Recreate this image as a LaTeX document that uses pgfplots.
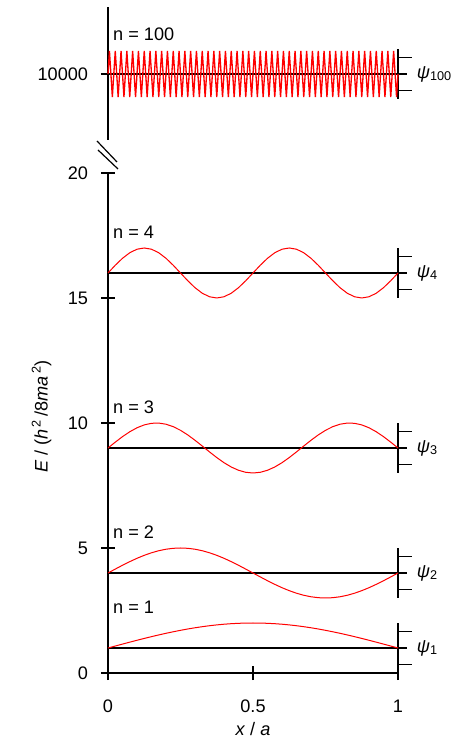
\documentclass[border=0pt]{standalone}
\usepackage{pgfplots}
\pgfplotsset{compat=1.18}
\usepackage{fontspec}
\setmainfont{Liberation Sans}
\begin{document}
\fontsize{13.6}{16}\selectfont
\begin{tikzpicture}[x=1pt,y=1pt]
\path[use as bounding box] (0,0) rectangle (349.5,561);
\pgfplotsset{
  common/.style={
    scale only axis, width=217.5pt,
    xmin=0, xmax=1, clip=false,
    tick style={line width=0.9pt, black},
    tick align=outside, major tick length=10.5pt,
    /pgf/number format/assume math mode=true,
    tick label style={font=\fontsize{13.6}{16}\selectfont},
    label style={font=\fontsize{13.6}{16}\selectfont},
    yticklabel style={xshift=-5pt},
  },
  hl/.style={black, line width=0.9pt},
  wave/.style={red, line width=0.75pt},
}
% ---------- lower panel ----------
\begin{axis}[common,
  at={(81pt,56.25pt)}, anchor=south west,
  height=375pt,
  ymin=0, ymax=20,
  axis x line=bottom, axis y line=left,
  axis line style={-, line width=0.9pt, black},
  xtick={0,0.5,1}, xticklabels={0,0.5,1},
  ytick={0,5,10,15,20},
  xticklabel style={yshift=-10pt},
  xlabel={\textit{x} / \textit{a}},
  xlabel style={at={(axis description cs:0.5,-0.112)}, anchor=center},
  ylabel={\textit{E} / (\textit{h}\textsuperscript{\,2}\,/8\textit{ma}\textsuperscript{\,2})},
  ylabel style={at={(axis description cs:-0.229,0.513)}, anchor=center},
]
% energy levels and psi mini-axes
\addplot[hl] coordinates {(0,1)(1.031,1)};
\addplot[hl] coordinates {(1,0)(1,2)};
\addplot[hl] coordinates {(1,0.333)(1.048,0.333)};
\addplot[hl] coordinates {(1,1.667)(1.048,1.667)};
\addplot[hl] coordinates {(0,4)(1.031,4)};
\addplot[hl] coordinates {(1,3)(1,5)};
\addplot[hl] coordinates {(1,3.333)(1.048,3.333)};
\addplot[hl] coordinates {(1,4.667)(1.048,4.667)};
\addplot[hl] coordinates {(0,9)(1.031,9)};
\addplot[hl] coordinates {(1,8)(1,10)};
\addplot[hl] coordinates {(1,8.333)(1.048,8.333)};
\addplot[hl] coordinates {(1,9.667)(1.048,9.667)};
\addplot[hl] coordinates {(0,16)(1.031,16)};
\addplot[hl] coordinates {(1,15)(1,17)};
\addplot[hl] coordinates {(1,15.333)(1.048,15.333)};
\addplot[hl] coordinates {(1,16.667)(1.048,16.667)};
% wavefunctions
\addplot[wave] coordinates {(0,1)(0.025,1.0785)(0.05,1.1564)(0.075,1.2334)(0.1,1.309)(0.125,1.3827)(0.15,1.454)(0.175,1.5225)(0.2,1.5878)(0.225,1.6494)(0.25,1.7071)(0.275,1.7604)(0.3,1.809)(0.325,1.8526)(0.35,1.891)(0.375,1.9239)(0.4,1.9511)(0.425,1.9724)(0.45,1.9877)(0.475,1.9969)(0.5,2)(0.525,1.9969)(0.55,1.9877)(0.575,1.9724)(0.6,1.9511)(0.625,1.9239)(0.65,1.891)(0.675,1.8526)(0.7,1.809)(0.725,1.7604)(0.75,1.7071)(0.775,1.6494)(0.8,1.5878)(0.825,1.5225)(0.85,1.454)(0.875,1.3827)(0.9,1.309)(0.925,1.2334)(0.95,1.1564)(0.975,1.0785)(1,1)};
\addplot[wave] coordinates {(0,4)(0.025,4.1564)(0.05,4.309)(0.075,4.454)(0.1,4.5878)(0.125,4.7071)(0.15,4.809)(0.175,4.891)(0.2,4.9511)(0.225,4.9877)(0.25,5)(0.275,4.9877)(0.3,4.9511)(0.325,4.891)(0.35,4.809)(0.375,4.7071)(0.4,4.5878)(0.425,4.454)(0.45,4.309)(0.475,4.1564)(0.5,4)(0.525,3.8436)(0.55,3.691)(0.575,3.546)(0.6,3.4122)(0.625,3.2929)(0.65,3.191)(0.675,3.109)(0.7,3.0489)(0.725,3.0123)(0.75,3)(0.775,3.0123)(0.8,3.0489)(0.825,3.109)(0.85,3.191)(0.875,3.2929)(0.9,3.4122)(0.925,3.546)(0.95,3.691)(0.975,3.8436)(1,4)};
\addplot[wave] coordinates {(0,9)(0.025,9.2334)(0.05,9.454)(0.075,9.6494)(0.1,9.809)(0.125,9.9239)(0.15,9.9877)(0.175,9.9969)(0.2,9.9511)(0.225,9.8526)(0.25,9.7071)(0.275,9.5225)(0.3,9.309)(0.325,9.0785)(0.35,8.8436)(0.375,8.6173)(0.4,8.4122)(0.425,8.2396)(0.45,8.109)(0.475,8.0276)(0.5,8)(0.525,8.0276)(0.55,8.109)(0.575,8.2396)(0.6,8.4122)(0.625,8.6173)(0.65,8.8436)(0.675,9.0785)(0.7,9.309)(0.725,9.5225)(0.75,9.7071)(0.775,9.8526)(0.8,9.9511)(0.825,9.9969)(0.85,9.9877)(0.875,9.9239)(0.9,9.809)(0.925,9.6494)(0.95,9.454)(0.975,9.2334)(1,9)};
\addplot[wave] coordinates {(0,16)(0.025,16.309)(0.05,16.5878)(0.075,16.809)(0.1,16.9511)(0.125,17)(0.15,16.9511)(0.175,16.809)(0.2,16.5878)(0.225,16.309)(0.25,16)(0.275,15.691)(0.3,15.4122)(0.325,15.191)(0.35,15.0489)(0.375,15)(0.4,15.0489)(0.425,15.191)(0.45,15.4122)(0.475,15.691)(0.5,16)(0.525,16.309)(0.55,16.5878)(0.575,16.809)(0.6,16.9511)(0.625,17)(0.65,16.9511)(0.675,16.809)(0.7,16.5878)(0.725,16.309)(0.75,16)(0.775,15.691)(0.8,15.4122)(0.825,15.191)(0.85,15.0489)(0.875,15)(0.9,15.0489)(0.925,15.191)(0.95,15.4122)(0.975,15.691)(1,16)};
% labels
\node[anchor=west, inner sep=0pt] at (axis cs:0.017,2.62) {n = 1};
\node[anchor=west, inner sep=0pt] at (axis cs:0.017,5.64) {n = 2};
\node[anchor=west, inner sep=0pt] at (axis cs:0.017,10.64) {n = 3};
\node[anchor=west, inner sep=0pt] at (axis cs:0.017,17.64) {n = 4};
\node[anchor=west, inner sep=0pt] at (axis cs:1.064,1) {\textit{ψ}\textsubscript{1}};
\node[anchor=west, inner sep=0pt] at (axis cs:1.064,4) {\textit{ψ}\textsubscript{2}};
\node[anchor=west, inner sep=0pt] at (axis cs:1.064,9) {\textit{ψ}\textsubscript{3}};
\node[anchor=west, inner sep=0pt] at (axis cs:1.064,16) {\textit{ψ}\textsubscript{4}};
\end{axis}
% ---------- upper panel (values relative to E = 10000) ----------
\begin{axis}[common,
  at={(81pt,456pt)}, anchor=south west,
  height=99.75pt,
  ymin=-2.64, ymax=2.68,
  axis x line=none, axis y line=left,
  axis line style={-, line width=0.9pt, black},
  ytick={0}, yticklabels={10000},
]
\addplot[hl] coordinates {(0,0)(1.031,0)};
\addplot[hl] coordinates {(1,-1)(1,1)};
\addplot[hl] coordinates {(1,-0.667)(1.048,-0.667)};
\addplot[hl] coordinates {(1,0.667)(1.048,0.667)};
\addplot[wave, line width=1pt] coordinates {
(0,0)(0.005,0.92)(0.01,0)(0.015,-0.92)(0.02,0)(0.025,0.92)(0.03,0)(0.035,-0.92)(0.04,0)(0.045,0.92)(0.05,0)(0.055,-0.92)(0.06,0)(0.065,0.92)(0.07,0)(0.075,-0.92)(0.08,0)(0.085,0.92)(0.09,0)(0.095,-0.92)
(0.1,0)(0.105,0.92)(0.11,0)(0.115,-0.92)(0.12,0)(0.125,0.92)(0.13,0)(0.135,-0.92)(0.14,0)(0.145,0.92)(0.15,0)(0.155,-0.92)(0.16,0)(0.165,0.92)(0.17,0)(0.175,-0.92)(0.18,0)(0.185,0.92)(0.19,0)(0.195,-0.92)
(0.2,0)(0.205,0.92)(0.21,0)(0.215,-0.92)(0.22,0)(0.225,0.92)(0.23,0)(0.235,-0.92)(0.24,0)(0.245,0.92)(0.25,0)(0.255,-0.92)(0.26,0)(0.265,0.92)(0.27,0)(0.275,-0.92)(0.28,0)(0.285,0.92)(0.29,0)(0.295,-0.92)
(0.3,0)(0.305,0.92)(0.31,0)(0.315,-0.92)(0.32,0)(0.325,0.92)(0.33,0)(0.335,-0.92)(0.34,0)(0.345,0.92)(0.35,0)(0.355,-0.92)(0.36,0)(0.365,0.92)(0.37,0)(0.375,-0.92)(0.38,0)(0.385,0.92)(0.39,0)(0.395,-0.92)
(0.4,0)(0.405,0.92)(0.41,0)(0.415,-0.92)(0.42,0)(0.425,0.92)(0.43,0)(0.435,-0.92)(0.44,0)(0.445,0.92)(0.45,0)(0.455,-0.92)(0.46,0)(0.465,0.92)(0.47,0)(0.475,-0.92)(0.48,0)(0.485,0.92)(0.49,0)(0.495,-0.92)
(0.5,0)(0.505,0.92)(0.51,0)(0.515,-0.92)(0.52,0)(0.525,0.92)(0.53,0)(0.535,-0.92)(0.54,0)(0.545,0.92)(0.55,0)(0.555,-0.92)(0.56,0)(0.565,0.92)(0.57,0)(0.575,-0.92)(0.58,0)(0.585,0.92)(0.59,0)(0.595,-0.92)
(0.6,0)(0.605,0.92)(0.61,0)(0.615,-0.92)(0.62,0)(0.625,0.92)(0.63,0)(0.635,-0.92)(0.64,0)(0.645,0.92)(0.65,0)(0.655,-0.92)(0.66,0)(0.665,0.92)(0.67,0)(0.675,-0.92)(0.68,0)(0.685,0.92)(0.69,0)(0.695,-0.92)
(0.7,0)(0.705,0.92)(0.71,0)(0.715,-0.92)(0.72,0)(0.725,0.92)(0.73,0)(0.735,-0.92)(0.74,0)(0.745,0.92)(0.75,0)(0.755,-0.92)(0.76,0)(0.765,0.92)(0.77,0)(0.775,-0.92)(0.78,0)(0.785,0.92)(0.79,0)(0.795,-0.92)
(0.8,0)(0.805,0.92)(0.81,0)(0.815,-0.92)(0.82,0)(0.825,0.92)(0.83,0)(0.835,-0.92)(0.84,0)(0.845,0.92)(0.85,0)(0.855,-0.92)(0.86,0)(0.865,0.92)(0.87,0)(0.875,-0.92)(0.88,0)(0.885,0.92)(0.89,0)(0.895,-0.92)
(0.9,0)(0.905,0.92)(0.91,0)(0.915,-0.92)(0.92,0)(0.925,0.92)(0.93,0)(0.935,-0.92)(0.94,0)(0.945,0.92)(0.95,0)(0.955,-0.92)(0.96,0)(0.965,0.92)(0.97,0)(0.975,-0.92)(0.98,0)(0.985,0.92)(0.99,0)(0.995,-0.92)
(1,0)};
\node[anchor=west, inner sep=0pt] at (axis cs:0.017,1.6) {n = 100};
\node[anchor=west, inner sep=0pt] at (axis cs:1.064,0) {\textit{ψ}\textsubscript{100}};
\end{axis}
% axis break marks
\draw[line width=0.9pt] (72.75,455.25) -- (87.75,439.5);
\draw[line width=0.9pt] (73.5,448.5) -- (88.5,434.25);
\end{tikzpicture}
\end{document}
